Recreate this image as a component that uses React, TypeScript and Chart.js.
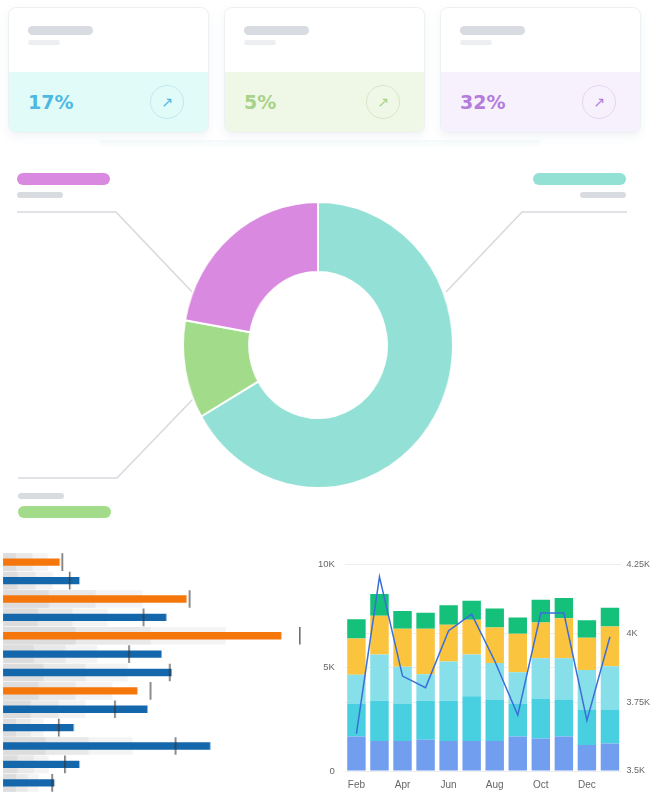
import React, { useEffect, useRef } from "react";
import Chart from "chart.js/auto";

// ---------- data ----------
const cardValues = ["17%", "5%", "32%"];
const cardTextColors = ["#4db9e3", "#a7d28a", "#b47cdb"];
const cardBandColors = ["#e1fbf8", "#eff8e6", "#f7f1fd"];
const cardRingColors = ["#c3e9ef", "#d8e6c8", "#e5d6f0"];

const donutLabels = ["Teal", "Green", "Purple"];
const donutValues = [60, 10, 20];
const donutColors = ["#93e1d6", "#a2dc8a", "#d98ae0"];

const bulletRows = ["R1", "R2", "R3", "R4", "R5", "R6", "R7", "R8", "R9", "R10", "R11", "R12", "R13"];
const bulletActual = [12.9, 17.4, 41.8, 37.2, 63.4, 36.1, 38.4, 30.6, 32.9, 16.1, 47.2, 17.4, 11.7];
const bulletTarget = [13.5, 15.2, 42.5, 32.0, 67.6, 28.7, 38.0, 33.6, 25.5, 12.7, 39.3, 14.1, 11.2];
const bulletRange1 = [2.9, 3.3, 10.4, 7.9, 16.5, 7.0, 9.2, 8.1, 6.3, 2.9, 9.7, 3.3, 2.9];
const bulletRange2 = [6.7, 7.4, 21.1, 15.8, 33.6, 14.2, 18.8, 16.5, 12.7, 6.3, 19.5, 7.0, 5.6];
const bulletRange3 = [10.2, 11.3, 31.8, 23.8, 50.7, 21.5, 28.4, 24.9, 18.8, 9.2, 29.5, 10.4, 8.1];
const bulletHighlight = [true, false, true, false, true, false, false, true, false, false, false, false, false];

const months = ["Feb", "Mar", "Apr", "May", "Jun", "Jul", "Aug", "Sep", "Oct", "Nov", "Dec", "Jan"];
const seriesBlue = [1.67, 1.46, 1.46, 1.52, 1.46, 1.46, 1.46, 1.67, 1.57, 1.67, 1.26, 1.33];
const seriesTeal = [1.60, 1.94, 1.81, 1.88, 1.94, 2.16, 2.00, 1.60, 1.94, 1.79, 1.72, 1.65];
const seriesCyan = [1.39, 2.25, 1.78, 1.29, 1.91, 2.03, 1.77, 1.52, 1.96, 2.01, 1.92, 2.10];
const seriesYellow = [1.76, 1.87, 1.84, 2.20, 1.78, 1.68, 1.73, 1.86, 1.73, 1.94, 1.56, 1.93];
const seriesGreen = [0.94, 1.06, 0.86, 0.78, 0.95, 0.92, 0.92, 0.79, 1.10, 0.97, 0.85, 0.90];
const lineValues = [3.636, 4.206, 3.845, 3.803, 4.010, 4.070, 3.900, 3.703, 4.074, 4.074, 3.684, 3.988];

Chart.defaults.font.family = "'Liberation Sans', Arial, sans-serif";

function useChart(factory: () => any) {
  const ref = useRef<HTMLCanvasElement | null>(null);
  useEffect(() => {
    if (!ref.current) return;
    const chart = new Chart(ref.current, factory());
    return () => chart.destroy();
  }, []);
  return ref;
}

function Donut() {
  const ref = useChart(() => ({
    type: "doughnut",
    data: {
      labels: donutLabels,
      datasets: [{ data: donutValues, backgroundColor: donutColors, borderColor: "#ffffff", borderWidth: 2 }],
    },
    options: {
      animation: false,
      responsive: true,
      maintainAspectRatio: false,
      cutout: "51%",
      layout: { padding: 0 },
      plugins: { legend: { display: false }, tooltip: { enabled: false } },
    },
  }));
  return (
    <div style={{ position: "absolute", left: 174, top: 201, width: 288, height: 288, transform: "scaleX(0.944)", transformOrigin: "center" }}>
      <canvas ref={ref} />
    </div>
  );
}

function Bullet() {
  const ref = useChart(() => ({
    type: "bar",
    data: {
      labels: bulletRows,
      datasets: [
        { data: bulletRange3, backgroundColor: "#f4f4f4", barPercentage: 0.96, categoryPercentage: 1, order: 5 },
        { data: bulletRange2, backgroundColor: "#e9e9e9", barPercentage: 0.96, categoryPercentage: 1, order: 4 },
        { data: bulletRange1, backgroundColor: "#dddddd", barPercentage: 0.96, categoryPercentage: 1, order: 3 },
        {
          data: bulletActual,
          backgroundColor: bulletHighlight.map((h) => (h ? "#f5770c" : "#1567ab")),
          barPercentage: 0.4,
          categoryPercentage: 1,
          order: 2,
        },
        {
          data: bulletTarget.map((t) => [t - 0.15, t + 0.15]),
          backgroundColor: "rgba(50,50,50,0.85)",
          barPercentage: 0.96,
          categoryPercentage: 1,
          order: 1,
        },
      ],
    },
    options: {
      animation: false,
      responsive: true,
      maintainAspectRatio: false,
      indexAxis: "y",
      datasets: { bar: { grouped: false } },
      layout: { padding: { top: 8, right: 6, left: 0, bottom: 0 } },
      plugins: { legend: { display: false }, tooltip: { enabled: false } },
      scales: {
        x: {
          min: 0,
          max: 70,
          grid: { display: false },
          border: { display: false },
          afterFit: (scale: any) => {
            scale.height = 10;
          },
          ticks: { stepSize: 5, autoSkip: false, maxRotation: 0, color: "#aaaaaa", font: { size: 4.5 }, padding: 3, callback: (v: any) => "$" + v + "K" },
        },
        y: { display: false },
      },
    },
  }));
  return (
    <div style={{ position: "absolute", left: -3.6, top: 545, width: 321.6, height: 257 }}>
      <canvas ref={ref} />
    </div>
  );
}

function Combo() {
  const ref = useChart(() => ({
    type: "bar",
    data: {
      labels: months,
      datasets: [
        { type: "line", data: lineValues, yAxisID: "y1", borderColor: "#3a6fd9", borderWidth: 1.5, pointRadius: 0, tension: 0, fill: false, order: 0 },
        { data: seriesBlue, backgroundColor: "#729ef0", yAxisID: "y", order: 1 },
        { data: seriesTeal, backgroundColor: "#48cfe0", yAxisID: "y", order: 1 },
        { data: seriesCyan, backgroundColor: "#87dfe9", yAxisID: "y", order: 1 },
        { data: seriesYellow, backgroundColor: "#fbc43e", yAxisID: "y", order: 1 },
        { data: seriesGreen, backgroundColor: "#14c07a", yAxisID: "y", order: 1 },
      ],
    },
    options: {
      animation: false,
      responsive: true,
      maintainAspectRatio: false,
      datasets: { bar: { barPercentage: 0.8, categoryPercentage: 1 } },
      layout: { padding: { top: 10, right: 0, left: 0, bottom: 0 } },
      plugins: { legend: { display: false }, tooltip: { enabled: false } },
      scales: {
        x: {
          stacked: true,
          grid: { display: false },
          border: { display: false },
          ticks: {
            autoSkip: false,
            maxRotation: 0,
            padding: 0,
            color: "#666666",
            font: { size: 10 },
            callback: (v: any, i: number) => (i % 2 === 0 ? months[i] : ""),
          },
        },
        y: {
          stacked: true,
          min: 0,
          max: 10,
          border: { display: false },
          grid: { color: "#eeeeee", drawTicks: false },
          ticks: { stepSize: 5, padding: 10, color: "#666666", font: { size: 9.5 }, callback: (v: any) => (v === 0 ? "0" : v + "K") },
        },
        y1: {
          position: "right",
          min: 3.5,
          max: 4.25,
          border: { display: false },
          grid: { color: "#eeeeee", drawTicks: false },
          ticks: { stepSize: 0.25, padding: 5, color: "#666666", font: { size: 9 }, callback: (v: any) => v + "K" },
        },
      },
    },
  }));
  return (
    <div style={{ position: "absolute", left: 308, top: 549, width: 347, height: 242 }}>
      <canvas ref={ref} />
    </div>
  );
}

function Card({ i }: { i: number }) {
  const left = 8 + i * 216;
  return (
    <div
      style={{
        position: "absolute",
        left,
        top: 7,
        width: 201,
        height: 126,
        borderRadius: 8,
        overflow: "hidden",
        background: "#ffffff",
        border: "1px solid #eef1f4",
        boxShadow: "0 4px 10px rgba(120,150,170,0.10)",
        boxSizing: "border-box",
      }}
    >
      <div style={{ position: "absolute", left: 19, top: 18, width: 65, height: 9, borderRadius: 5, background: "#d8dbe2" }} />
      <div style={{ position: "absolute", left: 19, top: 32, width: 32, height: 5, borderRadius: 3, background: "#eceef1" }} />
      <div style={{ position: "absolute", left: 0, top: 64, width: 201, height: 62, background: cardBandColors[i] }}>
        <div
          style={{
            position: "absolute",
            left: 19,
            top: 18,
            fontFamily: "'DejaVu Sans', sans-serif",
            fontWeight: 700,
            fontSize: 19,
            color: cardTextColors[i],
            lineHeight: "24px",
          }}
        >
          {cardValues[i]}
        </div>
        <div
          style={{
            position: "absolute",
            left: 141,
            top: 13,
            width: 32,
            height: 32,
            borderRadius: "50%",
            border: "1px solid " + cardRingColors[i],
            display: "flex",
            alignItems: "center",
            justifyContent: "center",
            color: cardTextColors[i],
            fontFamily: "'DejaVu Sans', sans-serif",
            fontSize: 14,
          }}
        >
          ↗
        </div>
      </div>
    </div>
  );
}

function Pill({ l, t, w, h, c }: { l: number; t: number; w: number; h: number; c: string }) {
  return <div style={{ position: "absolute", left: l, top: t, width: w, height: h, borderRadius: h / 2, background: c }} />;
}

export default function App() {
  return (
    <div style={{ position: "absolute", left: 0, top: 0, width: 650, height: 800, overflow: "hidden", background: "#ffffff" }}>
      <Card i={0} />
      <Card i={1} />
      <Card i={2} />
      <div style={{ position: "absolute", left: 100, top: 140, width: 440, height: 8, background: "linear-gradient(to bottom, rgba(232,244,248,0.5), rgba(255,255,255,0))" }} />

      <svg width={650} height={800} style={{ position: "absolute", left: 0, top: 0 }}>
        <polyline points="17,212 116,212 195,295" fill="none" stroke="#d6d9de" strokeWidth={1.5} />
        <polyline points="627,212 522,212 446,292" fill="none" stroke="#d6d9de" strokeWidth={1.5} />
        <polyline points="18,478 117,478 194,398" fill="none" stroke="#d6d9de" strokeWidth={1.5} />
      </svg>
      <Pill l={17} t={173} w={93} h={12} c="#d98ae0" />
      <Pill l={17} t={192} w={46} h={6} c="#d8dbe0" />
      <Pill l={533} t={173} w={93} h={12} c="#93e0d5" />
      <Pill l={580} t={192} w={46} h={6} c="#d8dbe0" />
      <Pill l={18} t={493} w={46} h={6} c="#d8dbe0" />
      <Pill l={18} t={506} w={93} h={12} c="#a2dc8a" />

      <Donut />
      <Bullet />
      <Combo />
    </div>
  );
}
